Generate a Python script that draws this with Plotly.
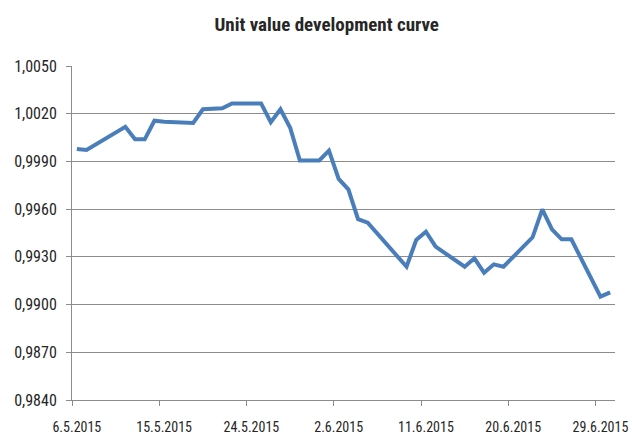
import plotly.graph_objects as go

# Unit values (Finnish date format on the axis)
dates = [
    "2015-05-06", "2015-05-07", "2015-05-11", "2015-05-12", "2015-05-13",
    "2015-05-14", "2015-05-15", "2015-05-18", "2015-05-19", "2015-05-20",
    "2015-05-21", "2015-05-22", "2015-05-25", "2015-05-26", "2015-05-27",
    "2015-05-28", "2015-05-29", "2015-05-31", "2015-06-01", "2015-06-02",
    "2015-06-03", "2015-06-04", "2015-06-05", "2015-06-09", "2015-06-10",
    "2015-06-11", "2015-06-12", "2015-06-15", "2015-06-16", "2015-06-17",
    "2015-06-18", "2015-06-19", "2015-06-22", "2015-06-23", "2015-06-24",
    "2015-06-25", "2015-06-26", "2015-06-29", "2015-06-30",
]
unit_values = [
    0.99978, 0.99972, 1.00118, 1.00039, 1.00039,
    1.00156, 1.00150, 1.00142, 1.00228, 1.00232,
    1.00234, 1.00265, 1.00265, 1.00147, 1.00228,
    1.00112, 0.99906, 0.99906, 0.99968, 0.99790,
    0.99725, 0.99537, 0.99515, 0.99238, 0.99406,
    0.99458, 0.99364, 0.99238, 0.99291, 0.99200,
    0.99253, 0.99238, 0.99423, 0.99599, 0.99473,
    0.99410, 0.99410, 0.99050, 0.99077,
]

tick_dates = ["2015-05-06", "2015-05-15", "2015-05-24", "2015-06-02",
              "2015-06-11", "2015-06-20", "2015-06-29"]
tick_labels = ["6.5.2015", "15.5.2015", "24.5.2015", "2.6.2015",
               "11.6.2015", "20.6.2015", "29.6.2015"]

font_family = "Liberation Sans Narrow, Roboto Condensed, Liberation Sans, sans-serif"
grid_color = "#8c8c8c"

fig = go.Figure(
    go.Scatter(
        x=dates,
        y=unit_values,
        mode="lines",
        line=dict(color="#4a7ebb", width=4),
        hoverinfo="x+y",
    )
)

fig.update_layout(
    template="none",
    width=632,
    height=434,
    margin=dict(l=72, r=17, t=66, b=34),
    paper_bgcolor="white",
    plot_bgcolor="white",
    showlegend=False,
    separators=", ",
    font=dict(family=font_family, size=16, color="#262626"),
    title=dict(
        text="<b>Unit value development curve</b>",
        x=0.517,
        xanchor="center",
        y=0.96,
        yanchor="top",
        font=dict(family=font_family, size=19, color="#262626"),
    ),
)

fig.update_xaxes(
    type="date",
    range=["2015-05-05 12:00", "2015-06-30 12:00"],
    tickvals=tick_dates,
    ticktext=tick_labels,
    tickfont=dict(size=14),
    ticks="outside",
    ticklen=5,
    tickcolor="rgba(0,0,0,0)",
    ticklabelstandoff=9,
    ticklabeloverflow="allow",
    minor=dict(
        ticks="outside",
        ticklen=5,
        tickcolor=grid_color,
        tick0="2015-05-05 12:00",
        dtick=9 * 86400000,
        showgrid=False,
    ),
    showgrid=False,
    showline=True,
    linecolor=grid_color,
    linewidth=1,
    zeroline=False,
    automargin=False,
)

fig.update_yaxes(
    range=[0.984, 1.005],
    dtick=0.003,
    tick0=0.984,
    tickformat=".4f",
    tickfont=dict(size=16),
    ticks="outside",
    ticklen=5,
    tickcolor=grid_color,
    ticklabelstandoff=6,
    showgrid=True,
    gridcolor=grid_color,
    gridwidth=1,
    showline=True,
    linecolor=grid_color,
    linewidth=1,
    zeroline=False,
    automargin=False,
)

# drop the browser's default body margin so the 632x434 figure fills the window
fig.write_html(
    "out.html",
    config={"displayModeBar": False},
    post_script="document.body.style.margin='0';document.body.style.overflow='hidden';",
)
